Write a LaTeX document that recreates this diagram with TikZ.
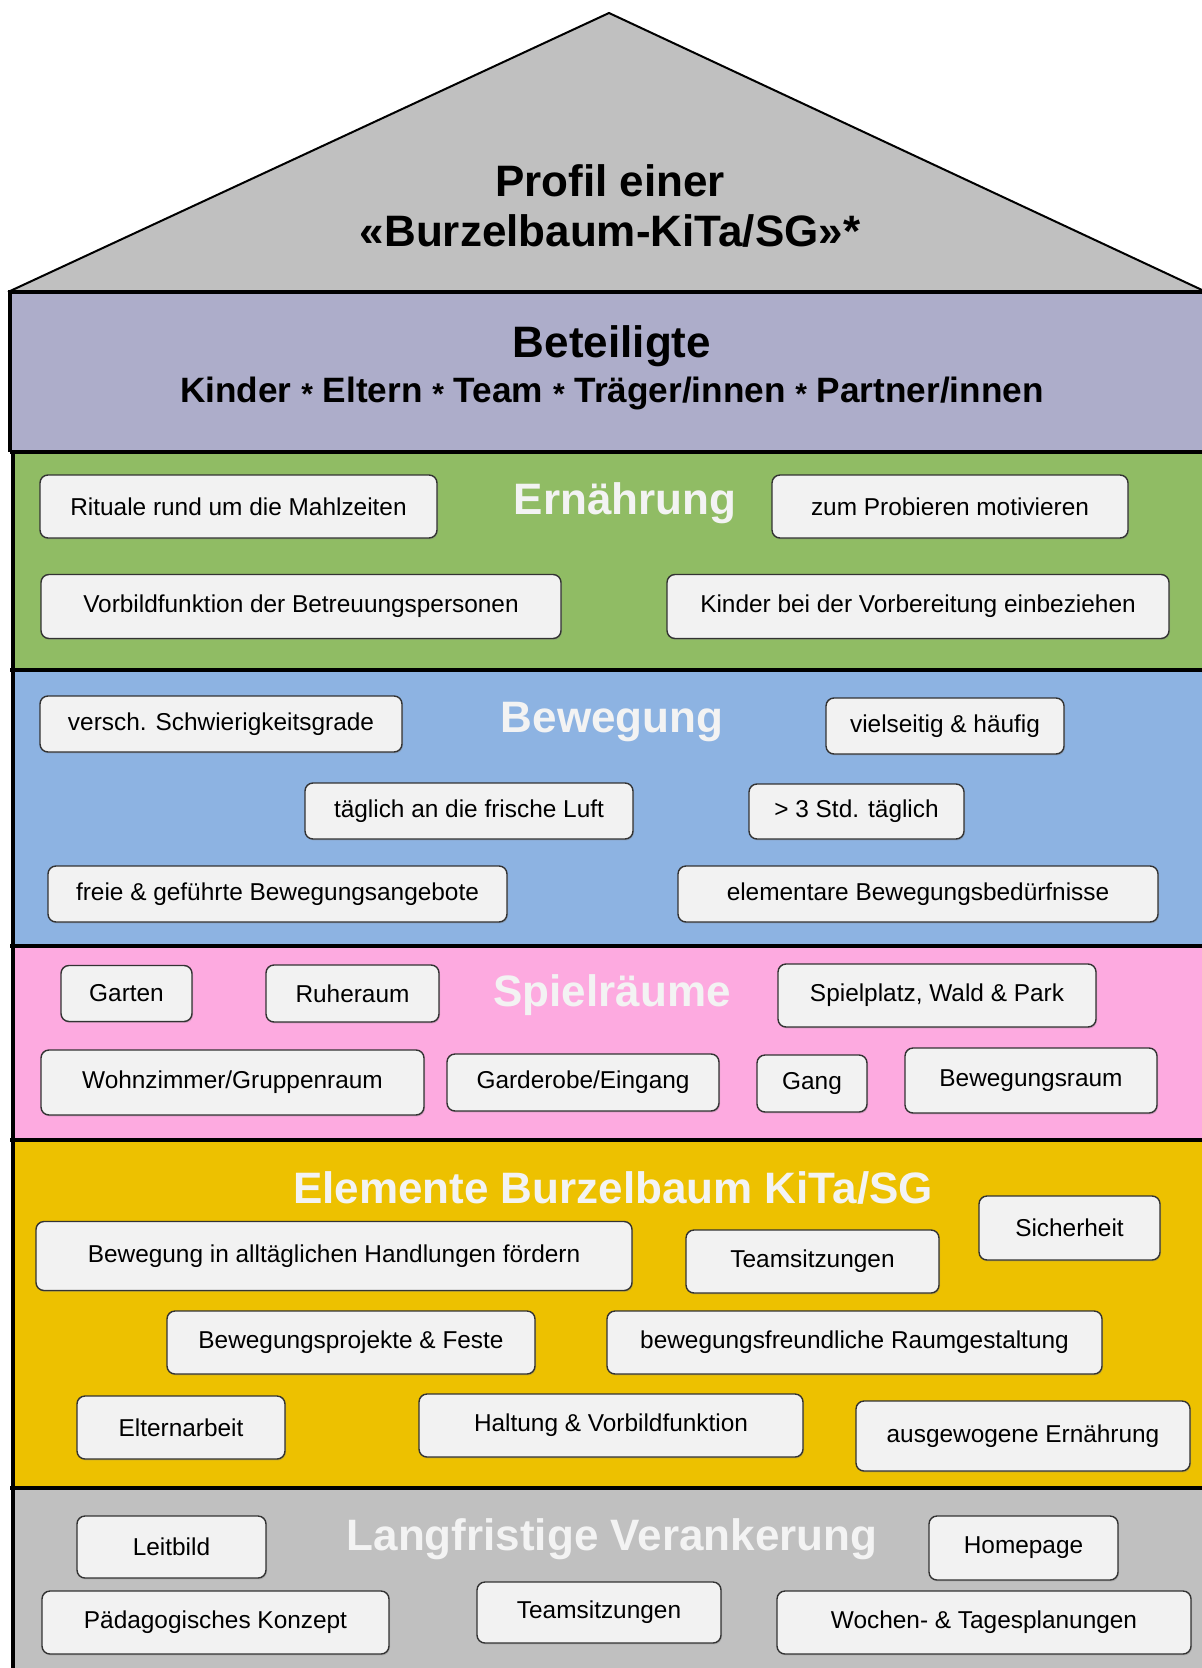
\documentclass[tikz,border=0pt]{standalone}
\usepackage{fontspec}
\setmainfont{Liberation Sans}
\usetikzlibrary{shadows}
\definecolor{roofgray}{HTML}{C0C0C0}
\definecolor{betcol}{HTML}{ADADCA}
\definecolor{erncol}{HTML}{90BC64}
\definecolor{bewcol}{HTML}{8DB3E2}
\definecolor{spicol}{HTML}{FDAAE0}
\definecolor{elecol}{HTML}{EDC100}
\definecolor{lancol}{HTML}{C0C0C0}
\definecolor{boxfill}{HTML}{F2F2F2}
\definecolor{titlecol}{HTML}{F3F3F3}
\tikzset{
  kbox/.style={draw=black!80, line width=0.7pt, fill=boxfill, rounded corners=4pt,
    inner sep=0pt, font=\fontsize{12.2}{14}\selectfont, text=black,
    drop shadow={shadow xshift=0.5pt, shadow yshift=-0.7pt, opacity=0.35}},
  ttl/.style={font=\fontsize{22}{26}\bfseries\selectfont, text=titlecol, inner sep=0pt},
  sepline/.style={draw=black, line width=1.7pt},
}
\newcommand{\kbox}[6]{\node[kbox, minimum width=#4*0.5pt, minimum height=#5*0.5pt] (#1) at (#2,#3) {#6};}
\newcommand{\stsep}{ \raisebox{-0.06em}{\fontsize{15}{18}\selectfont *} }
\begin{document}
\begin{tikzpicture}[x=0.5pt, y=-0.5pt]
\useasboundingbox (0,0) rectangle (1202,1668);
% roof
\fill[roofgray] (8,292) -- (609,13) -- (1202,290) -- (1202,292) -- cycle;
\draw[black, line width=1pt, line join=miter] (8,292) -- (609,13) -- (1202,290);
% bands
\fill[betcol] (10,292) rectangle (1202,452);
\fill[erncol] (13,452) rectangle (1202,670);
\fill[bewcol] (13,670) rectangle (1202,946);
\fill[spicol] (13,946) rectangle (1202,1140);
\fill[elecol] (13,1140) rectangle (1202,1488);
\fill[lancol] (13,1488) rectangle (1202,1668);
\draw[sepline] (8,292) -- (1202,292);
\foreach \yy in {452,670,946,1140,1488} {\draw[sepline] (10,\yy) -- (1202,\yy);}
\draw[sepline] (10,292) -- (10,452);
\draw[sepline] (13,452) -- (13,1668);
% roof text
\node[font=\fontsize{22}{25}\bfseries\selectfont, align=center, inner sep=0pt] (profil) at (610,206) {Profil einer\\«Burzelbaum-KiTa/SG»*};
\node[font=\fontsize{22}{26}\bfseries\selectfont, inner sep=0pt] (bet) at (612,346) {Beteiligte};
\node[font=\fontsize{17.6}{20}\bfseries\selectfont, inner sep=0pt] (betl) at (612,393) {Kinder\stsep Eltern\stsep Team\stsep Träger/innen\stsep Partner/innen};
% titles
\node[ttl] (ern) at (625,503) {Ernährung};
\node[ttl] (bew) at (612,722) {Bewegung};
\node[ttl] (spi) at (612,995) {Spielräume};
\node[ttl] (ele) at (613,1188) {Elemente Burzelbaum KiTa/SG};
\node[ttl] (lan) at (612,1539) {Langfristige Verankerung};
% Ernaehrung
\kbox{e1}{238.5}{506.5}{397}{63}{Rituale rund um die Mahlzeiten}
\kbox{e2}{950}{506.5}{356}{63}{zum Probieren motivieren}
\kbox{e3}{301}{606.5}{520}{64}{Vorbildfunktion der Betreuungspersonen}
\kbox{e4}{918}{606.5}{502}{64}{Kinder bei der Vorbereitung einbeziehen}
% Bewegung
\kbox{b1}{221}{724}{362}{56}{versch. Schwierigkeitsgrade}
\kbox{b2}{945}{726}{238}{56}{vielseitig \& häufig}
\kbox{b3}{469}{811}{328}{56}{täglich an die frische Luft}
\kbox{b4}{856.5}{811.5}{215}{55}{> 3 Std. täglich}
\kbox{b5}{277.5}{894}{459}{56}{freie \& geführte Bewegungsangebote}
\kbox{b6}{918}{894}{480}{56}{elementare Bewegungsbedürfnisse}
% Spielraeume
\kbox{s1}{126.5}{993.5}{131}{56}{Garten}
\kbox{s2}{352.5}{993.5}{173}{57}{Ruheraum}
\kbox{s3}{937}{995.5}{318}{63}{Spielplatz, Wald \& Park}
\kbox{s4}{232.5}{1082.5}{383}{65}{Wohnzimmer/Gruppenraum}
\kbox{s5}{583}{1082.5}{272}{57}{Garderobe/Eingang}
\kbox{s6}{812}{1083.5}{110}{57}{Gang}
\kbox{s7}{1031}{1080.5}{252}{65}{Bewegungsraum}
% Elemente
\kbox{m1}{1069.5}{1228}{181}{64}{Sicherheit}
\kbox{m2}{334}{1256}{596}{69}{Bewegung in alltäglichen Handlungen fördern}
\kbox{m3}{812.5}{1261.5}{253}{63}{Teamsitzungen}
\kbox{m4}{351}{1342.5}{368}{63}{Bewegungsprojekte \& Feste}
\kbox{m5}{854.5}{1342.5}{495}{63}{bewegungsfreundliche Raumgestaltung}
\kbox{m6}{181}{1427.5}{208}{63}{Elternarbeit}
\kbox{m7}{611}{1425.5}{384}{63}{Haltung \& Vorbildfunktion}
\kbox{m8}{1023}{1436}{334}{70}{ausgewogene Ernährung}
% Langfristige Verankerung
\kbox{l1}{171.5}{1547}{189}{62}{Leitbild}
\kbox{l2}{1023.5}{1548}{189}{64}{Homepage}
\kbox{l3}{215.5}{1622.5}{347}{63}{Pädagogisches Konzept}
\kbox{l4}{599}{1612.5}{244}{61}{Teamsitzungen}
\kbox{l5}{984}{1622.5}{414}{63}{Wochen- \& Tagesplanungen}
\end{tikzpicture}
\end{document}
